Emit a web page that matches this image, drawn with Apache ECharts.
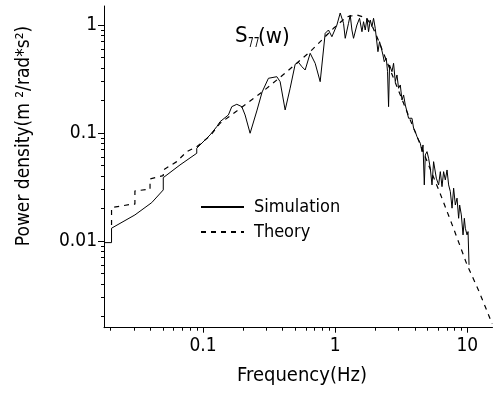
<!DOCTYPE html>
<html><head><meta charset="utf-8">
<script src="https://cdn.jsdelivr.net/npm/echarts@6/dist/echarts.min.js"></script>
<style>html,body{margin:0;padding:0;background:#fff}#c{width:493px;height:395px}</style>
</head><body><div id="c"></div>
<script>
const FONT = "'DejaVu Sans Condensed', 'Liberation Sans Narrow', sans-serif";

// Simulated spectrum (frequency Hz, power density)
const simFreq = [0.0178,0.0203,0.0203,0.0305,0.0409,0.0500,0.0500,0.0669,0.0896,0.0896,0.113,
  0.127,0.1345,0.1555,0.165,0.180,0.1964,0.208,0.227,0.2551,0.2799,0.3124,0.3617,0.3831,0.418,0.456,
  0.4977,0.5272,0.5595,0.5925,0.6464,0.7055,0.7698,0.840,0.8897,0.9441,0.9708,1.030,1.091,1.156,1.191,
  1.261,1.299,1.338,1.376,1.460,1.528,1.594,1.639,1.688,1.739,1.788,1.842,1.897,1.951,2.009,2.070,
  2.106,2.166,2.220,2.298,2.351,2.434,2.490,2.534,2.578,2.689,2.765,2.848,2.934,3.017,3.108,3.201,
  3.292,3.391,3.493,3.592,3.700,3.811,3.919,4.037,4.158,4.405,4.538,4.618,4.723,4.806,4.951,5.090,
  5.243,5.402,5.555,5.824,6.062,6.244,6.431,6.613,6.813,7.019,7.217,7.434,7.658,7.874,8.111,8.356,
  8.592,8.744,9.006,9.277,9.490,9.656,9.948,10.12,10.30];
const simPower = [0.00964,0.00964,0.01311,0.0174,0.02263,0.02966,0.03855,0.05054,0.06486,0.07217,0.09583,
  0.1144,0.1272,0.1468,0.1752,0.1843,0.1752,0.1468,0.0994,0.1599,0.2397,0.3209,0.332,0.2985,0.1633,0.2594,
  0.4327,0.4516,0.4111,0.3831,0.547,0.4418,0.2985,0.8377,0.8989,0.7792,0.8082,1.0,1.292,1.037,0.753,
  1.037,1.238,0.8989,0.753,1.0,1.154,0.8668,1.073,0.8989,1.154,0.8668,1.113,0.9644,1.154,0.9321,0.8989,
  0.566,0.7005,0.6296,0.5275,0.4573,0.4916,0.3695,0.1752,0.4263,0.3695,0.4418,0.2985,0.3444,0.2594,0.2783,0.202,
  0.2248,0.1816,0.1575,0.1368,0.1319,0.1368,0.1105,0.1028,0.0924,0.0803,0.0671,0.0774,0.033,0.0626,0.0671,0.0583,
  0.0471,0.033,0.0542,0.0381,0.033,0.0438,0.0318,0.0438,0.0367,0.0454,0.033,0.0286,0.0201,0.0308,0.0215,0.0249,
  0.0162,0.0215,0.0174,0.01136,0.0162,0.0131,0.01136,0.0122,0.0060];

// Theoretical spectrum
const theoryFreq = [0.0203,0.0203,0.0288,0.0305,0.0305,0.0397,0.0397,0.0500,0.0500,0.0632,0.0752,0.0896,
  0.113,0.1345,0.180,0.2863,0.4306,0.6464,0.9708,1.226,1.460,1.717,1.907,2.117,2.610,3.700,6.244,7.837,
  9.948,12.12,14.17,15.39];
const theoryPower = [0.01406,0.02034,0.02187,0.0219,0.02904,0.03011,0.03751,0.04023,0.04544,0.05424,0.06712,0.07465,
  0.09381,0.123,0.1599,0.2448,0.3695,0.566,0.9321,1.194,1.238,1.161,0.979,0.7262,0.3831,0.1319,0.02724,0.01319,
  0.0060,0.003517,0.002201,0.001704];

const xMajorTicks = [0.1, 1, 10];
const xMinorTicks = [0.02,0.03,0.04,0.05,0.06,0.07,0.08,0.09,0.2,0.3,0.4,0.5,0.6,0.7,0.8,0.9,2,3,4,5,6,7,8,9];
const yMajorTicks = [0.01, 0.1, 1];
const yMinorTicks = [0.002,0.003,0.004,0.005,0.006,0.007,0.008,0.009,0.02,0.03,0.04,0.05,0.06,0.07,0.08,0.09,0.2,0.3,0.4,0.5,0.6,0.7,0.8,0.9];
const xRange = [0.0178, 15.5];
const yRange = [0.00157, 1.5];

const seriesNames = ['Simulation', 'Theory'];
const xTitle = 'Frequency(Hz)';
const yTitle = 'Power density(m ²/rad*s²)';

const zip = (a, b) => a.map((v, i) => [v, b[i]]);
const black = '#000';

function xAx(major) {
  return {
    type: 'log', min: xRange[0], max: xRange[1], position: 'bottom',
    axisLine: { show: major, lineStyle: { color: black, width: 1 } },
    axisTick: { show: true, inside: false, length: major ? 5 : 3, customValues: major ? xMajorTicks : xMinorTicks,
      lineStyle: { color: black, width: 1 } },
    axisLabel: { show: major, customValues: xMajorTicks, margin: 9, color: black, fontSize: 19, fontFamily: FONT,
      formatter: v => String(v) },
    splitLine: { show: false }, minorTick: { show: false }
  };
}
function yAx(major) {
  return {
    type: 'log', min: yRange[0], max: yRange[1], position: 'left',
    axisLine: { show: major, lineStyle: { color: black, width: 1 } },
    axisTick: { show: true, inside: false, length: major ? 6 : 3, customValues: major ? yMajorTicks : yMinorTicks,
      lineStyle: { color: black, width: 1 } },
    axisLabel: { show: major, customValues: yMajorTicks, margin: 7, color: black, fontSize: 19, fontFamily: FONT,
      formatter: v => String(v) },
    splitLine: { show: false }, minorTick: { show: false }
  };
}

const chart = echarts.init(document.getElementById('c'), null, { renderer: 'canvas' });
chart.setOption({
  animation: false,
  backgroundColor: '#fff',
  grid: { left: 104, top: 6, width: 388.5, height: 321.7, containLabel: false },
  xAxis: [xAx(true), xAx(false)],
  yAxis: [yAx(true), yAx(false)],
  legend: {
    orient: 'vertical', left: 200, top: 198, padding: 0, itemWidth: 43, itemHeight: 14, itemGap: 7,
    data: seriesNames,
    itemStyle: { opacity: 0, borderWidth: 0 },
    textStyle: { color: black, fontSize: 18, fontFamily: FONT, padding: [0, 0, 0, 5] }
  },
  series: [
    { name: seriesNames[0], type: 'line', xAxisIndex: 0, yAxisIndex: 0, data: zip(simFreq, simPower),
      symbol: 'none', lineStyle: { color: black, width: 1 }, itemStyle: { color: black } },
    { name: seriesNames[1], type: 'line', xAxisIndex: 0, yAxisIndex: 0, data: zip(theoryFreq, theoryPower),
      symbol: 'none', lineStyle: { color: black, width: 1.2, type: [5, 5] }, itemStyle: { color: black } }
  ],
  graphic: [
    { type: 'text', x: 302, y: 376, style: { text: xTitle, font: '20px ' + FONT, fill: black,
      align: 'center', verticalAlign: 'middle', textAlign: 'center', textVerticalAlign: 'middle' } },
    { type: 'text', x: 24, y: 136, rotation: Math.PI / 2, style: { text: yTitle, font: '19px ' + FONT, fill: black,
      align: 'center', verticalAlign: 'middle', textAlign: 'center', textVerticalAlign: 'middle' } },
    { type: 'text', x: 235, y: 36, style: { text: 'S', font: '22px ' + FONT, fill: black,
      align: 'left', verticalAlign: 'middle', textAlign: 'left', textVerticalAlign: 'middle' } },
    { type: 'text', x: 248, y: 43, scaleX: 0.72, style: { text: '77', font: '14px ' + FONT, fill: black,
      align: 'left', verticalAlign: 'middle', textAlign: 'left', textVerticalAlign: 'middle' } },
    { type: 'text', x: 258, y: 37, style: { text: '(w)', font: '22px ' + FONT, fill: black,
      align: 'left', verticalAlign: 'middle', textAlign: 'left', textVerticalAlign: 'middle' } }
  ]
});
</script></body></html>
